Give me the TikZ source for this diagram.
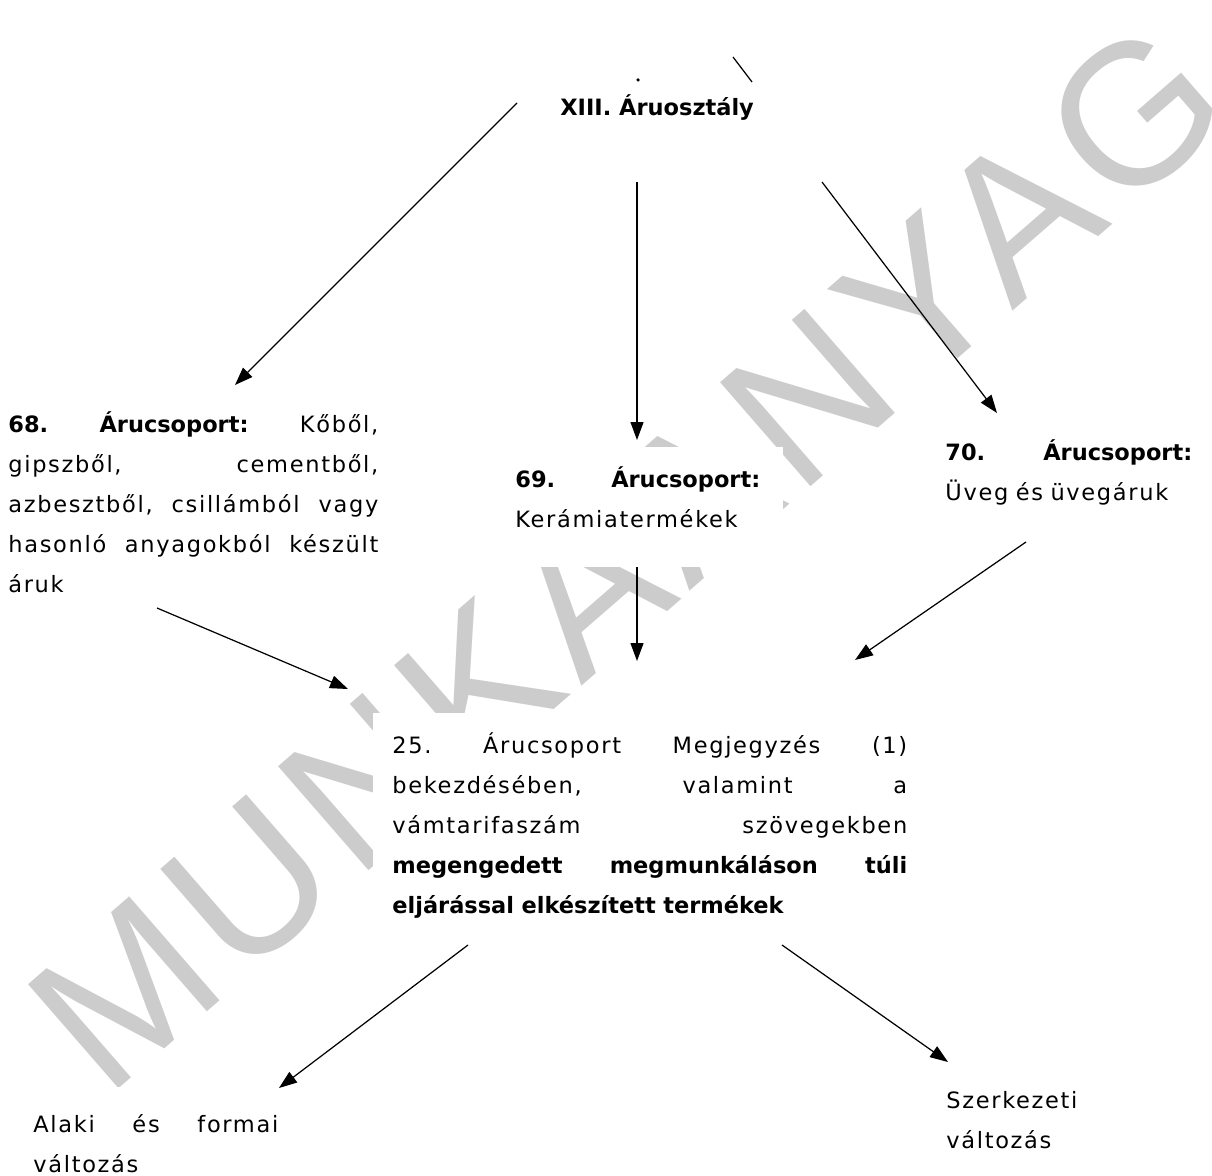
\documentclass[tikz,border=0pt]{standalone}
\usepackage{fontspec}
\setmainfont{DejaVu Sans}[LetterSpace=7.5,BoldFeatures={LetterSpace=0}]
\newfontfamily\wmfont{Liberation Sans}[LetterSpace=5]
\usetikzlibrary{arrows.meta,backgrounds}
\definecolor{wmgray}{HTML}{CCCCCC}
\newcommand\jl[1]{\makebox[\hsize][s]{#1}}

\begin{document}
\begin{tikzpicture}[x=0.02cm,y=-0.02cm,
    txt/.style={inner sep=0pt,anchor=north west,align=left,
      font=\fontsize{12.8}{22.76}\selectfont,execute at begin node=\strut},
    arr/.style={-{Triangle[length=0.36cm,width=0.26cm]},line width=0.7pt},
    paper/.style={fill=white}]
  \useasboundingbox (0,0) rectangle (1212,1175);
  % ------ vízjel a dobozok mögött -----------------------------
  \begin{scope}[on background layer]
    \node[rotate=41,text=wmgray,font=\wmfont\fontsize{114}{120}\selectfont] (wm) at (627,555) {MUNKAANYAG};
    \fill[paper] (517,81) rectangle (830,182);
    \fill[paper] (0,392) rectangle (398,607);
    \fill[paper] (497,447) rectangle (783,567);
    \fill[paper] (925,420) rectangle (1212,538);
    \fill[paper] (373,713) rectangle (927,945);
    \fill[paper] (13,1087) rectangle (298,1175);
    \fill[paper] (926,1068) rectangle (1100,1175);
  \end{scope}
  % ------ szövegek --------------------------------------------
  \node[txt] (xiii) at (560,87) {\textbf{XIII. Áruosztály}};
  \node[txt,text width=7.4cm] (g68) at (8,404) {\jl{\textbf{68.}\hfill\textbf{Árucsoport:}\hfill Kőből,}\\
    \jl{gipszből,\hfill cementből,}\\
    \jl{azbesztből,\hfill csillámból\hfill vagy}\\
    \jl{hasonló\hfill anyagokból\hfill készült}\\
    áruk};
  \node[txt,text width=4.9cm] (g69) at (515,459) {\jl{\textbf{69.}\hfill\textbf{Árucsoport:}}\\
    Kerámiatermékek};
  \node[txt,text width=4.94cm] (g70) at (945,432) {\jl{\textbf{70.}\hfill\textbf{Árucsoport:}}\\
    Üveg és üvegáruk};
  \node[txt,text width=10.3cm] (g25) at (392,725) {\jl{25.\hfill Árucsoport\hfill Megjegyzés\hfill (1)}\\
    \jl{bekezdésében,\hfill valamint\hfill a}\\
    \jl{vámtarifaszám\hfill szövegekben}\\
    \jl{\textbf{megengedett}\hfill\textbf{megmunkáláson}\hfill\textbf{túli}}\\
    \textbf{eljárással elkészített termékek}};
  \node[txt,text width=4.9cm] (alaki) at (33,1104) {\jl{Alaki\hfill és\hfill formai}\\
    változás};
  \node[txt,text width=3cm] (szerk) at (946,1080) {Szerkezeti\\
    változás};
  % ------ nyilak ----------------------------------------------
  \coordinate (xiii-l) at (517,103);
  \coordinate (xiii-m) at (637,182);
  \coordinate (xiii-r) at (822,182);
  \coordinate (g68-t) at (235,385);
  \coordinate (g69-t) at (637,440);
  \coordinate (g70-t) at (997,413);
  \coordinate (g68-b) at (157,608);
  \coordinate (g69-b) at (637,567);
  \coordinate (g70-b) at (1026,542);
  \coordinate (g25-l) at (348,689);
  \coordinate (g25-m) at (637,661);
  \coordinate (g25-r) at (855,660);
  \coordinate (g25-bl) at (468,945);
  \coordinate (g25-br) at (782,945);
  \coordinate (alaki-t) at (279,1088);
  \coordinate (szerk-t) at (948,1062);
  \draw[arr] (xiii-l) -- (g68-t);
  \draw[arr] (xiii-m) -- (g69-t);
  \draw[arr] (xiii-r) -- (g70-t);
  \draw[arr] (g68-b) -- (g25-l);
  \draw[arr] (g69-b) -- (g25-m);
  \draw[arr] (g70-b) -- (g25-r);
  \draw[arr] (g25-bl) -- (alaki-t);
  \draw[arr] (g25-br) -- (szerk-t);
  \draw[line width=0.7pt] (733,57) -- (752,82);
  \fill (638,80) circle (1pt);
\end{tikzpicture}
\end{document}
